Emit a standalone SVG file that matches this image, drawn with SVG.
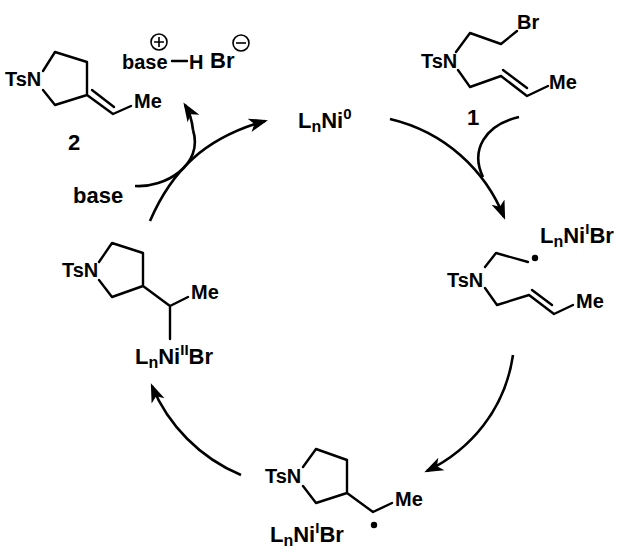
<svg xmlns="http://www.w3.org/2000/svg" width="626" height="552" viewBox="0 0 626 552">
<style>
text{font-family:"Liberation Sans",Arial,sans-serif;font-weight:700;font-size:20px;fill:#000}
.l{font-size:22px}
.s{font-size:16px}
.u{font-size:15px}
.b{fill:none;stroke:#000;stroke-width:2.4;stroke-linecap:round;stroke-linejoin:round}
.a{fill:none;stroke:#000;stroke-width:2.6;marker-end:url(#h)}
.p{fill:none;stroke:#000;stroke-width:2.6}
.c{fill:none;stroke:#000;stroke-width:1.6}
</style>
<defs>
<marker id="h" markerUnits="userSpaceOnUse" markerWidth="24" markerHeight="20" refX="16" refY="8" orient="auto" viewBox="0 0 24 16">
<path d="M0,1 L5,8 L0,15 L19,8 z" fill="#000"/>
</marker>
</defs>
<g id="connectors">
<path class="a" d="M150,221 C172,170 205,138 265,121"/>
<path class="p" d="M135,186 C165,188 204,165 193,130"/>
<path class="a" d="M193,130 C192,120 190,113 185,105"/>
<path class="a" d="M390,119 C445,132 485,170 504,217"/>
<path class="p" d="M519,117 C485,125 470,150 483,177"/>
<path class="a" d="M513,355 C505,410 470,450 427,471"/>
<path class="a" d="M241,475 C200,458 168,425 152,386"/>
</g>
<g id="product-2">
<path class="b" d="M43,71 L55,52 L87,62 L87,95 L55,105 L43,90 M87,95 L113,114 L131,106 M92,90 L114,107"/>
<text x="5" y="86">TsN</text>
<text x="134" y="108">Me</text>
<text x="68" y="150" class="l">2</text>
</g>
<g id="base-h-br">
<text x="122" y="69">base</text>
<path class="b" d="M172,61 L187,61"/>
<text x="189" y="69">H</text>
<text x="210" y="68" class="l">Br</text>
<circle class="c" cx="159" cy="42" r="8"/>
<path class="c" d="M154,42 H164 M159,37 V47"/>
<circle class="c" cx="241" cy="43" r="8"/>
<path class="c" d="M236,43 H246"/>
</g>
<g id="base"><text x="73" y="203" class="l">base</text></g>
<g id="ni0">
<text x="298" y="128" class="l">L<tspan class="s" dy="4">n</tspan><tspan dy="-4">Ni</tspan><tspan class="u" dy="-9">0</tspan></text>
</g>
<g id="substrate-1">
<path class="b" d="M456,52 L470,33 L501,44 L517,31 M458,70 L470,87 L501,76 L527,96 L548,86 M503,70 L527,88"/>
<text x="421" y="68">TsN</text>
<text x="517" y="29">Br</text>
<text x="549" y="89">Me</text>
<text x="467" y="125" class="l">1</text>
</g>
<g id="radical-1">
<text x="540" y="243" class="l">L<tspan class="s" dy="4">n</tspan><tspan dy="-4">Ni</tspan><tspan class="u" dy="-9">I</tspan><tspan dy="9">Br</tspan></text>
<path class="b" d="M485,267 L496,253 L528,262 M485,288 L497,305 L529,295 L554,314 L573,305 M532,290 L552,305"/>
<circle cx="535" cy="258" r="3.2"/>
<text x="447" y="287">TsN</text>
<text x="576" y="308">Me</text>
</g>
<g id="alkyl-ni-ii">
<path class="b" d="M99,262 L112,243 L143,253 L143,286 L112,297 L99,280 M143,286 L170,306 L188,297 M170,306 L170,339"/>
<text x="62" y="277">TsN</text>
<text x="191" y="299">Me</text>
<text x="135" y="364" class="l">L<tspan class="s" dy="4">n</tspan><tspan dy="-4">Ni</tspan><tspan class="u" dy="-9">II</tspan><tspan dy="9">Br</tspan></text>
</g>
<g id="radical-2">
<path class="b" d="M303,467 L316,449 L347,460 L347,493 L316,503 L303,486 M347,493 L373,512 L392,503"/>
<circle cx="374" cy="525" r="3.2"/>
<text x="265" y="483">TsN</text>
<text x="395" y="506">Me</text>
<text x="270" y="542" class="l">L<tspan class="s" dy="4">n</tspan><tspan dy="-4">Ni</tspan><tspan class="u" dy="-9">I</tspan><tspan dy="9">Br</tspan></text>
</g>
</svg>
